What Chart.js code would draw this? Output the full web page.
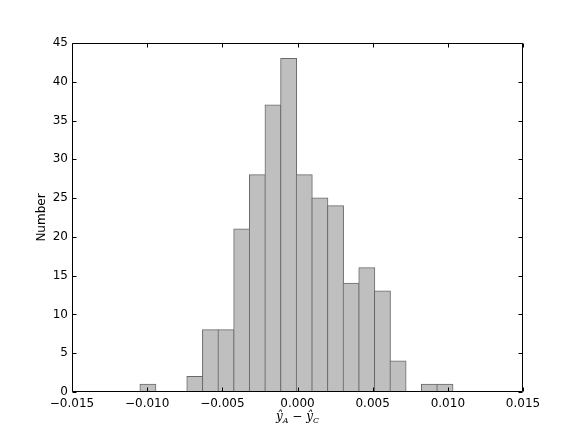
<!DOCTYPE html>
<html>
<head>
<meta charset="utf-8">
<script src="https://cdn.jsdelivr.net/npm/chart.js@4.4.1/dist/chart.umd.min.js"></script>
<style>
  html, body { margin: 0; padding: 0; background: #fff; }
  canvas { display: block; }
</style>
</head>
<body>
<canvas id="mychart" width="581" height="436"></canvas>
<script>
// histogram of y_A - y_C, 20 bins
const binCenters = [-0.00995, -0.00891, -0.00787, -0.00683, -0.00579, -0.00475, -0.00371, -0.00267, -0.00163, -0.00059,
                     0.00045,  0.00149,  0.00253,  0.00357,  0.00461,  0.00565,  0.00669,  0.00773,  0.00877,  0.00981];
const counts = [1, 0, 0, 2, 8, 8, 21, 28, 37, 43, 28, 25, 24, 14, 16, 13, 4, 0, 1, 1];
const xTicks = [-0.015, -0.010, -0.005, 0.000, 0.005, 0.010, 0.015];
const yTicks = [0, 5, 10, 15, 20, 25, 30, 35, 40, 45];

const fmtX = v => {
    let s = Number(v).toFixed(3);
    if (s === '-0.000') s = '0.000';
    return s.replace('-', '\u2212');
};

// matplotlib style frame with ticks pointing inward, plus the math x label
const framePlugin = {
    id: 'frame',
    afterDraw(chart) {
        const c = chart.ctx;
        const a = chart.chartArea;
        const xs = chart.scales.x, ys = chart.scales.y;
        const L = Math.round(a.left) + 0.5, R = Math.round(a.right) - 0.5;
        const T = Math.round(a.top) + 0.5, B = Math.round(a.bottom) - 0.5;
        c.save();
        c.strokeStyle = '#000';
        c.lineWidth = 1;
        c.beginPath();
        c.rect(L, T, R - L, B - T);
        xTicks.forEach(v => {
            const px = Math.round(xs.getPixelForValue(v)) + 0.5;
            c.moveTo(px, B); c.lineTo(px, B - 4);
            c.moveTo(px, T); c.lineTo(px, T + 4);
        });
        yTicks.forEach(v => {
            const py = Math.round(ys.getPixelForValue(v)) + 0.5;
            c.moveTo(L, py); c.lineTo(L + 4, py);
            c.moveTo(R, py); c.lineTo(R - 4, py);
        });
        c.stroke();

        // x label: y-hat_A - y-hat_C
        const parts = [
            { t: '\u0177', f: 'italic 12px "DejaVu Serif", "Liberation Serif", serif', dy: 0 },
            { t: 'A', f: 'italic 8px "DejaVu Serif", "Liberation Serif", serif', dy: 3 },
            { t: ' \u2212 ', f: '12px "DejaVu Serif", "Liberation Serif", serif', dy: 0 },
            { t: '\u0177', f: 'italic 12px "DejaVu Serif", "Liberation Serif", serif', dy: 0 },
            { t: 'C', f: 'italic 8px "DejaVu Serif", "Liberation Serif", serif', dy: 3 }
        ];
        let total = 0;
        parts.forEach(p => { c.font = p.f; p.w = c.measureText(p.t).width; total += p.w; });
        let x = (a.left + a.right) / 2 - total / 2;
        const baseY = 420;
        c.fillStyle = '#000';
        c.textBaseline = 'alphabetic';
        parts.forEach(p => {
            c.font = p.f;
            c.fillText(p.t, x, baseY + p.dy);
            x += p.w;
        });
        c.restore();
    }
};

const ctx = document.getElementById('mychart').getContext('2d');
let myChart = new Chart(ctx, {
    type: 'bar',
    data: {
        datasets: [
            {
                label: 'Number',
                data: binCenters.map((x, i) => ({ x: x, y: counts[i] })),
                backgroundColor: '#bfbfbf',
                borderColor: '#6a6a6a',
                borderWidth: 1,
                barPercentage: 1,
                categoryPercentage: 1,
                inflateAmount: 0.6
            }
        ]
    },
    options: {
        responsive: false,
        animation: false,
        layout: { padding: { left: 0, right: 58, top: 43, bottom: 0 } },
        plugins: {
            legend: { display: false },
            tooltip: { enabled: false }
        },
        scales: {
            x: {
                type: 'linear',
                min: -0.015,
                max: 0.015,
                offset: false,
                grid: { display: false, drawTicks: false },
                border: { display: false },
                afterBuildTicks: s => { s.ticks = xTicks.map(v => ({ value: v })); },
                afterFit: s => { s.height = 44; },
                ticks: {
                    autoSkip: false,
                    maxRotation: 0,
                    padding: 5,
                    color: '#000',
                    font: { family: '"DejaVu Sans"', size: 12 },
                    callback: v => fmtX(v)
                }
            },
            y: {
                min: 0,
                max: 45,
                grid: { display: false, drawTicks: false },
                border: { display: false },
                afterBuildTicks: s => { s.ticks = yTicks.map(v => ({ value: v })); },
                afterFit: s => { s.width = 72; },
                ticks: {
                    padding: 4,
                    color: '#000',
                    font: { family: '"DejaVu Sans"', size: 12 }
                },
                title: {
                    display: true,
                    text: 'Number',
                    color: '#000',
                    font: { family: '"DejaVu Sans"', size: 12 },
                    padding: { top: 35, bottom: 0 }
                }
            }
        }
    },
    plugins: [framePlugin]
});
</script>
</body>
</html>
